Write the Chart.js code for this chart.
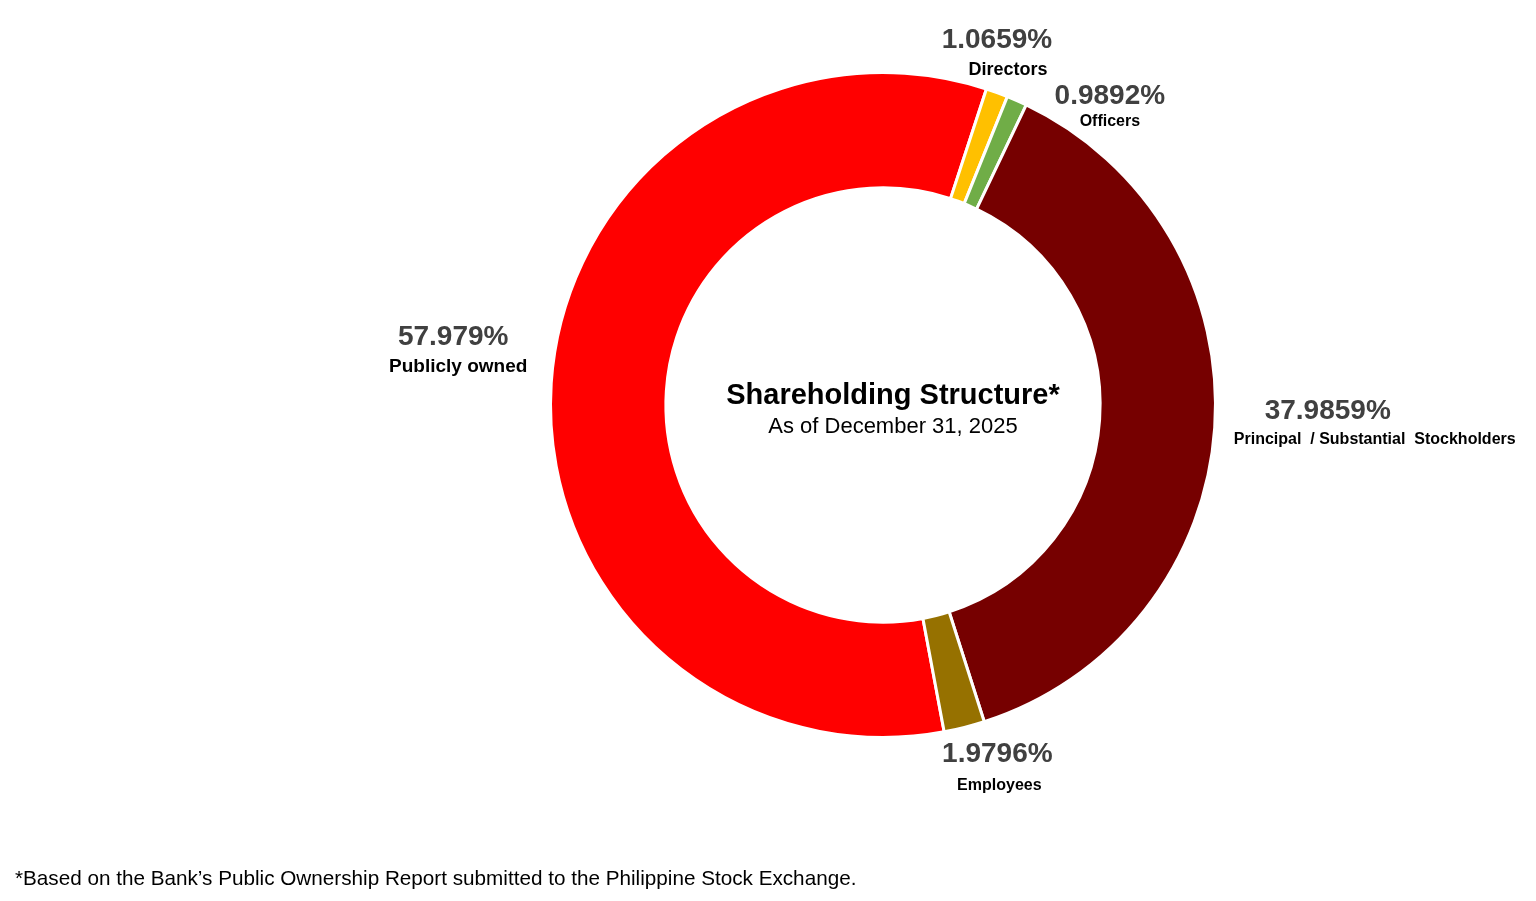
<!DOCTYPE html>
<html>
<head>
<meta charset="utf-8">
<title>Shareholding Structure</title>
<script src="https://cdn.jsdelivr.net/npm/chart.js@4/dist/chart.umd.min.js"></script>
<style>
  html, body { margin: 0; padding: 0; background: #fff; }
  #wrap { position: relative; width: 1536px; height: 901px; }
  #footnote {
    position: absolute; left: 15px; top: 866px;
    font: 20.7px "Liberation Sans", Arial, sans-serif; color: #000; white-space: nowrap;
  }
</style>
</head>
<body>
<div id="wrap">
  <canvas id="chart" width="1536" height="901"></canvas>
  <div id="footnote">*Based on the Bank’s Public Ownership Report submitted to the Philippine Stock Exchange.</div>
</div>
<script>
const categories = ['Publicly owned', 'Directors', 'Officers', 'Principal  / Substantial  Stockholders', 'Employees'];
const shares = [57.979, 1.0659, 0.9892, 37.9859, 1.9796];
const sliceColors = ['#ff0000', '#ffc000', '#70ad47', '#760000', '#967100'];

// label placement, relative to the middle of each slice's outer edge
const labelOffsets = [
    { pct: [-98, -46], name: [-93, -16], nameSize: 19 },
    { pct: [0, -52], name: [11, -23], nameSize: 18 },
    { pct: [93, -4], name: [93, 21], nameSize: 16 },
    { pct: [113, -16], name: [160, 12], nameSize: 16 },
    { pct: [33, 27], name: [35, 58], nameSize: 16 },
];

const FONT = '"Liberation Sans", Arial, sans-serif';

const sliceLabels = {
    id: 'sliceLabels',
    afterDatasetsDraw(chart) {
        const ctx = chart.ctx;
        const arcs = chart.getDatasetMeta(0).data;
        ctx.save();
        ctx.textAlign = 'center';
        ctx.textBaseline = 'middle';
        arcs.forEach((arc, i) => {
            const mid = (arc.startAngle + arc.endAngle) / 2;
            const ax = arc.x + Math.cos(mid) * arc.outerRadius;
            const ay = arc.y + Math.sin(mid) * arc.outerRadius;
            const off = labelOffsets[i];
            ctx.fillStyle = '#404040';
            ctx.font = 'bold 28px ' + FONT;
            ctx.fillText(shares[i] + '%', ax + off.pct[0], ay + off.pct[1]);
            ctx.fillStyle = '#000';
            ctx.font = 'bold ' + off.nameSize + 'px ' + FONT;
            ctx.fillText(categories[i], ax + off.name[0], ay + off.name[1]);
        });
        ctx.restore();
    }
};

const centerText = {
    id: 'centerText',
    afterDatasetsDraw(chart) {
        const ctx = chart.ctx;
        const arc = chart.getDatasetMeta(0).data[0];
        ctx.save();
        ctx.textAlign = 'center';
        ctx.textBaseline = 'middle';
        ctx.fillStyle = '#000';
        ctx.font = 'bold 29px ' + FONT;
        ctx.fillText('Shareholding Structure*', arc.x + 10, arc.y - 9);
        ctx.font = '22px ' + FONT;
        ctx.fillText('As of December 31, 2025', arc.x + 10, arc.y + 22);
        ctx.restore();
    }
};

new Chart(document.getElementById('chart'), {
    type: 'doughnut',
    data: {
        labels: categories,
        datasets: [{
            data: shares,
            backgroundColor: sliceColors,
            borderColor: '#ffffff',
            borderWidth: 3,
            hoverOffset: 0,
        }],
    },
    options: {
        responsive: false,
        animation: false,
        devicePixelRatio: 1,
        rotation: 169.4,
        cutout: '65.3%',
        layout: {
            padding: { left: 549, right: 319, top: 71, bottom: 162 },
        },
        plugins: {
            legend: { display: false },
            tooltip: { enabled: false },
        },
    },
    plugins: [sliceLabels, centerText],
});
</script>
</body>
</html>
